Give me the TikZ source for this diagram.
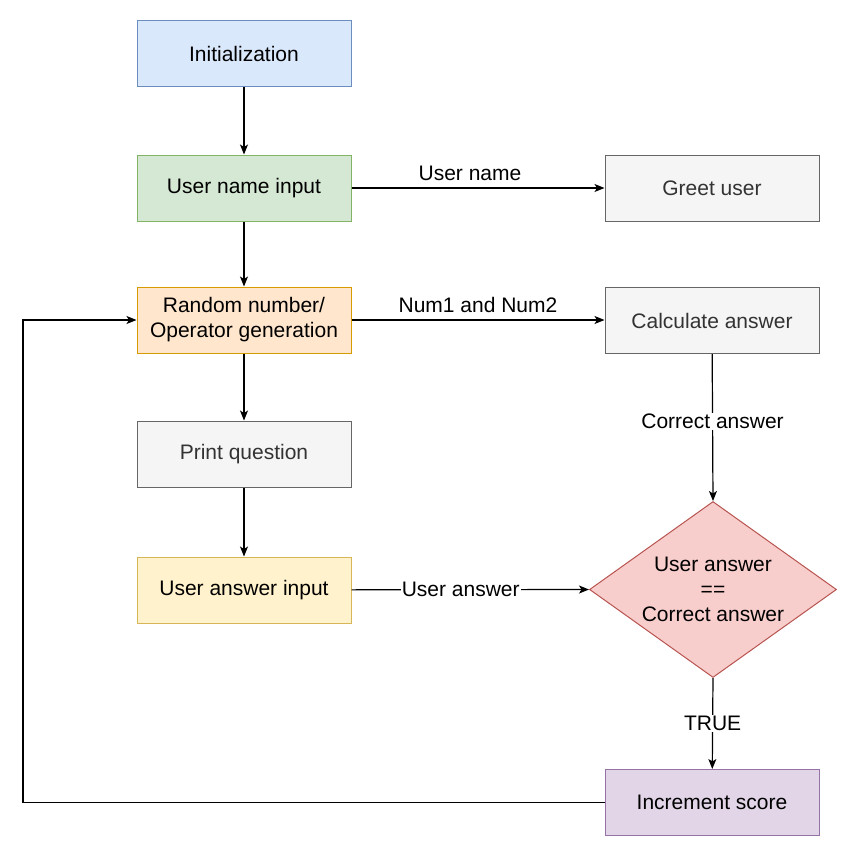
\documentclass[tikz,border=0pt]{standalone}
\usepackage{fontspec}
\setmainfont{Liberation Sans}
\usetikzlibrary{shapes.geometric,arrows.meta}

\definecolor{blueF}{HTML}{DAE8FC}\definecolor{blueD}{HTML}{6C8EBF}
\definecolor{greenF}{HTML}{D5E8D4}\definecolor{greenD}{HTML}{82B366}
\definecolor{orangeF}{HTML}{FFE6CC}\definecolor{orangeD}{HTML}{D79B00}
\definecolor{greyF}{HTML}{F5F5F5}\definecolor{greyD}{HTML}{666666}\definecolor{greyT}{HTML}{333333}
\definecolor{yellowF}{HTML}{FFF2CC}\definecolor{yellowD}{HTML}{D6B656}
\definecolor{redF}{HTML}{F8CECC}\definecolor{redD}{HTML}{B85450}
\definecolor{purpleF}{HTML}{E1D5E7}\definecolor{purpleD}{HTML}{9673A6}

\tikzset{
  every node/.style={font=\fontsize{21}{25}\selectfont},
  box/.style={rectangle, minimum width=214pt, minimum height=66pt, line width=1pt,
    align=center, inner sep=0pt},
  blue box/.style={box, fill=blueF, draw=blueD},
  green box/.style={box, fill=greenF, draw=greenD},
  orange box/.style={box, fill=orangeF, draw=orangeD},
  grey box/.style={box, fill=greyF, draw=greyD, text=greyT},
  yellow box/.style={box, fill=yellowF, draw=yellowD},
  purple box/.style={box, fill=purpleF, draw=purpleD},
  decision/.style={diamond, aspect=1.4, fill=redF, draw=redD, line width=1pt,
    align=center, inner sep=0pt, minimum width=247pt, minimum height=176pt},
  flow/.style={line width=1.2pt, -{Stealth[length=10pt,width=8pt,inset=2.5pt]}},
  elabel/.style={fill=white, inner sep=1pt},
}

\begin{document}
\begin{tikzpicture}[x=1pt, y=-1pt]
  \useasboundingbox (0,0) rectangle (857,855);

  % left column
  \node[blue box]   (init)   at (244, 53.5) {Initialization};
  \node[green box]  (name)   at (244, 188)  {User name input};
  \node[orange box] (rand)   at (244, 320)  {Random number/\\Operator generation};
  \node[grey box]   (print)  at (244, 454)  {Print question};
  \node[yellow box] (ans)    at (244, 590)  {User answer input};

  % right column
  \node[grey box]   (greet)  at (712, 188)  {Greet user};
  \node[grey box]   (calc)   at (712, 320.5){Calculate answer};
  \node[decision]   (check)  at (713, 589.5){User answer\\==\\Correct answer};
  \node[purple box] (score)  at (712, 802.5){Increment score};

  % main flow
  \draw[flow] (init) -- (name);
  \draw[flow] (name) -- (rand);
  \draw[flow] (rand) -- (print);
  \draw[flow] (print) -- (ans);

  % data passed to the right
  \draw[flow] (name) -- node[above, inner sep=7pt, xshift=-8pt] {User name} (greet);
  \draw[flow] (rand) -- node[above, inner sep=7pt] {Num1 and Num2} (rand -| calc.west);
  \draw[flow] (ans) -- node[elabel, pos=0.46] {User answer} (check.west);
  \draw[flow] (calc) -- node[elabel, pos=0.46] {Correct answer} (check.north);
  \draw[flow] (check.south) -- node[elabel] {TRUE} (score);

  % loop back for the next question
  \coordinate (loopB) at (23, 802.5);
  \coordinate (loopT) at (23, 320);
  \draw[flow] (score.west) -- (loopB) -- (loopT) -- (rand.west);
\end{tikzpicture}
\end{document}
